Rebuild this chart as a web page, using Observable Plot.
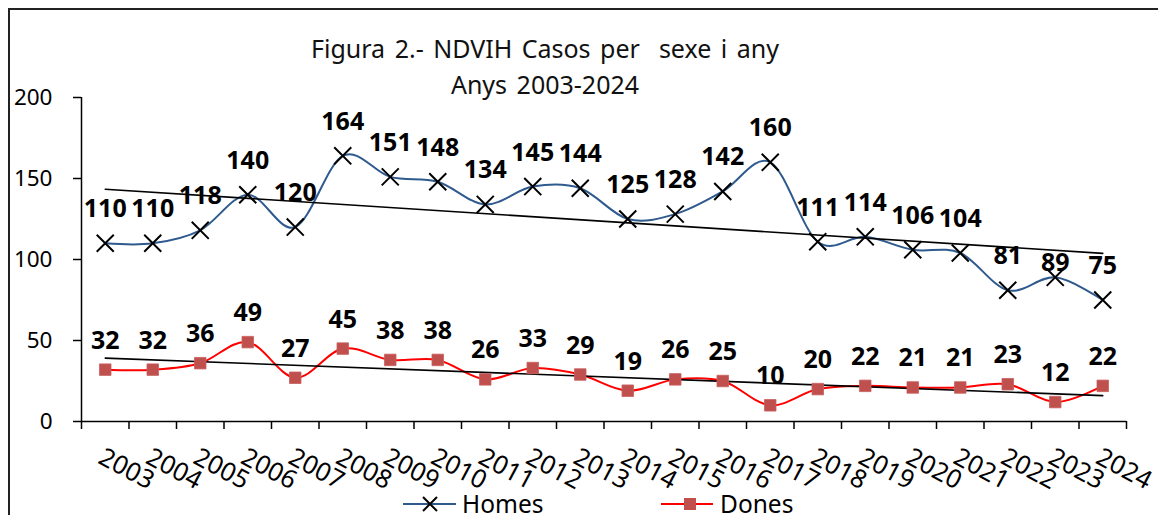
<!DOCTYPE html>
<html>
<head>
<meta charset="utf-8">
<script src="https://cdn.jsdelivr.net/npm/d3@7"></script>
<script src="https://cdn.jsdelivr.net/npm/@observablehq/plot@0.6"></script>
<style>
  html, body { margin: 0; padding: 0; background: #fff; overflow: hidden; }
  #wrap { position: relative; width: 1158px; height: 515px; overflow: hidden; font-family: "Noto Sans", sans-serif; color: #000; }
  #frame { position: absolute; left: 8px; top: 8px; width: 1300px; height: 700px; border: 2px solid #222; box-sizing: border-box; }
  #chart { position: absolute; left: 0; top: 0; }
  #title { position: absolute; left: 0; top: 30px; width: 1090px; text-align: center; font-size: 25px; line-height: 36px; word-spacing: 3px; white-space: pre; color: #111; }
  #legend { position: absolute; left: 0; top: 488px; }
</style>
</head>
<body>
<div id="wrap">
  <div id="frame"></div>
  <div id="chart"></div>
  <div id="title">Figura 2.- NDVIH Casos per  sexe i any
Anys 2003-2024</div>
  <div id="legend"></div>
</div>
<script>
const years = [2003, 2004, 2005, 2006, 2007, 2008, 2009, 2010, 2011, 2012, 2013, 2014, 2015, 2016, 2017, 2018, 2019, 2020, 2021, 2022, 2023, 2024];
const homes = [110, 110, 118, 140, 120, 164, 151, 148, 134, 145, 144, 125, 128, 142, 160, 111, 114, 106, 104, 81, 89, 75];
const dones = [32, 32, 36, 49, 27, 45, 38, 38, 26, 33, 29, 19, 26, 25, 10, 20, 22, 21, 21, 23, 12, 22];
const yTicks = [0, 50, 100, 150, 200];
const seriesNames = ["Homes", "Dones"];

const rowsH = years.map((year, i) => ({year, value: homes[i]}));
const rowsD = years.map((year, i) => ({year, value: dones[i]}));
const bounds = d3.range(years.length + 1).map(i => years[0] - 0.5 + i);

const blue = "#2E5A8E";
const red = "#FF0000";
const sq = "#C0504D";

const chart = Plot.plot({
  width: 1158,
  height: 515,
  marginLeft: 81,
  marginRight: 32,
  marginTop: 97,
  marginBottom: 94,
  style: {fontFamily: "Noto Sans, sans-serif", fontSize: "22px", color: "#000", background: "transparent", overflow: "visible"},
  x: {domain: [bounds[0], bounds[bounds.length - 1]]},
  y: {domain: [0, 200]},
  marks: [
    Plot.axisY({ticks: yTicks, tickSize: 8, tickPadding: 21, fontSize: 22.5, label: null, strokeWidth: 1.5}),
    Plot.axisX({ticks: bounds, tickSize: 8, tickFormat: () => "", label: null, strokeWidth: 1.5}),
    Plot.ruleX([bounds[0]], {y1: 0, y2: 200, stroke: "#000", strokeWidth: 1.5}),
    Plot.ruleY([0], {stroke: "#000", strokeWidth: 1.5}),
    Plot.text(years, {x: d => d, y: 0, text: d => String(d), rotate: 28, textAnchor: "start", lineAnchor: "top", dx: 0, dy: 25, fontSize: 25.5}),
    Plot.line(rowsH, {x: "year", y: "value", stroke: blue, strokeWidth: 2, curve: "cardinal"}),
    Plot.line(rowsD, {x: "year", y: "value", stroke: red, strokeWidth: 2, curve: "cardinal"}),
    Plot.linearRegressionY(rowsH, {x: "year", y: "value", ci: 0, stroke: "#000", strokeWidth: 1.6}),
    Plot.linearRegressionY(rowsD, {x: "year", y: "value", ci: 0, stroke: "#000", strokeWidth: 1.6}),
    Plot.dot(rowsH, {x: "year", y: "value", symbol: "times", r: 7.8, stroke: "#000", strokeWidth: 2}),
    Plot.dot(rowsD, {x: "year", y: "value", symbol: "square", r: 6.5, fill: sq, stroke: "#C86060", strokeWidth: 0.8}),
    Plot.text(rowsH.filter(d => d.year !== 2023), {x: "year", y: "value", text: d => String(d.value), dy: -34, fontSize: 25, fontWeight: "bold"}),
    Plot.text(rowsH.filter(d => d.year === 2023), {x: "year", y: "value", text: d => String(d.value), dy: -14, fontSize: 25, fontWeight: "bold"}),
    Plot.text(rowsD, {x: "year", y: "value", text: d => String(d.value), dy: -29, fontSize: 25, fontWeight: "bold"})
  ]
});
document.getElementById("chart").appendChild(chart);

// legend
const lg = d3.select("#legend").append("svg").attr("width", 1158).attr("height", 27)
  .style("font-family", "Noto Sans, sans-serif").style("font-size", "24.5px");
const cy = 16;
// Homes
lg.append("line").attr("x1", 403).attr("x2", 456).attr("y1", cy).attr("y2", cy).attr("stroke", blue).attr("stroke-width", 2);
lg.append("path").attr("d", `M${430-7},${cy-7}L${430+7},${cy+7}M${430-7},${cy+7}L${430+7},${cy-7}`).attr("stroke", "#000").attr("stroke-width", 2);
lg.append("text").attr("x", 462).attr("y", cy + 9).text(seriesNames[0]);
// Dones
lg.append("line").attr("x1", 661).attr("x2", 713).attr("y1", cy).attr("y2", cy).attr("stroke", red).attr("stroke-width", 2);
lg.append("rect").attr("x", 690 - 6).attr("y", cy - 6).attr("width", 12).attr("height", 12).attr("fill", sq);
lg.append("text").attr("x", 720).attr("y", cy + 9).text(seriesNames[1]);
</script>
</body>
</html>
